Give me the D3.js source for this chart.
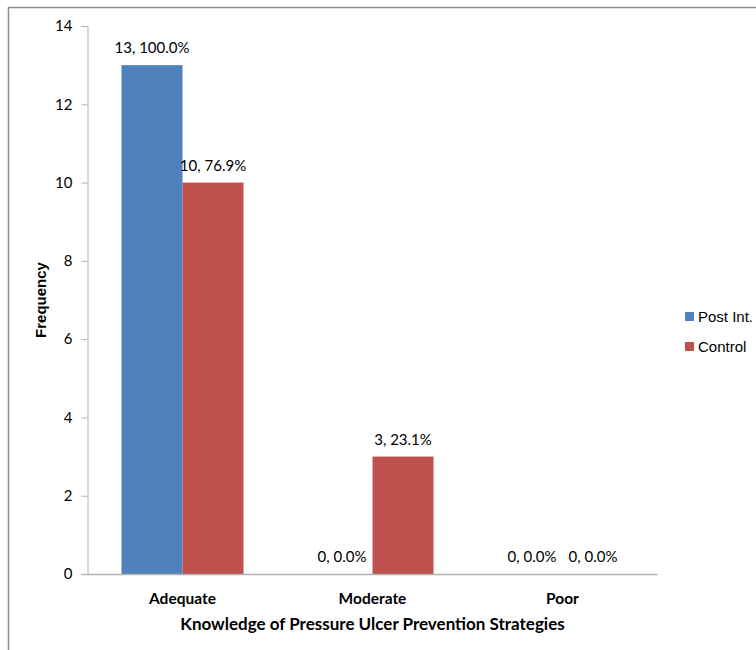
<!DOCTYPE html>
<html>
<head>
<meta charset="utf-8">
<script src="https://cdn.jsdelivr.net/npm/d3@7"></script>
<style>
  html, body { margin: 0; padding: 0; background: #fff; }
  svg { display: block; }
</style>
</head>
<body>
<svg id="chart" width="756" height="650"></svg>
<script>
// Knowledge levels and counts for each group
const categories = ["Adequate", "Moderate", "Poor"];
const seriesNames = ["Post Int.", "Control"];
const postInt = [13, 0, 0];
const control = [10, 3, 0];
const postIntPct = ["100.0%", "0.0%", "0.0%"];
const controlPct = ["76.9%", "23.1%", "0.0%"];
const yTicks = [0, 2, 4, 6, 8, 10, 12, 14];
const colors = ["#4F81BD", "#C0504D"];

const series = [
  { name: seriesNames[0], values: postInt, pct: postIntPct },
  { name: seriesNames[1], values: control, pct: controlPct }
];

const svg = d3.select("#chart");
const axisColor = "#b3b3b3";
const labelFont = "Lato, 'Open Sans', sans-serif";

// outer frame
svg.append("rect")
  .attr("x", 8.5).attr("y", 7.5)
  .attr("width", 800).attr("height", 700)
  .attr("fill", "none").attr("stroke", "#8c8c8c").attr("stroke-width", 1.5);

const plot = { left: 87.5, right: 657.5, top: 26, bottom: 574 };

const y = d3.scaleLinear().domain([0, 14]).range([plot.bottom, plot.top]);
const x0 = d3.scaleBand().domain(categories).range([plot.left, plot.right]);
const x1 = d3.scaleBand().domain(seriesNames).range([0, x0.bandwidth()]).paddingOuter(0.557);

// y axis
const yAxis = svg.append("g")
  .attr("transform", `translate(${plot.left},0)`)
  .call(d3.axisLeft(y).tickValues(yTicks).tickSize(6).tickPadding(9));
yAxis.select(".domain").attr("stroke", axisColor);
yAxis.selectAll(".tick line").attr("stroke", axisColor);
yAxis.selectAll(".tick text")
  .attr("font-family", labelFont).attr("font-size", 15).attr("fill", "#000");

// bars
const groups = svg.append("g").selectAll("g")
  .data(categories)
  .join("g")
  .attr("transform", d => `translate(${x0(d)},0)`);

groups.selectAll("rect")
  .data((c, i) => series.map(s => ({ name: s.name, value: s.values[i], pct: s.pct[i] })))
  .join("rect")
  .attr("x", d => x1(d.name))
  .attr("y", d => y(d.value))
  .attr("width", x1.bandwidth())
  .attr("height", d => y(0) - y(d.value))
  .attr("fill", (d, i) => colors[i]);

// value labels
groups.selectAll("text")
  .data((c, i) => series.map(s => ({ name: s.name, value: s.values[i], pct: s.pct[i] })))
  .join("text")
  .attr("x", d => x1(d.name) + x1.bandwidth() / 2)
  .attr("y", d => y(d.value) - 12)
  .attr("text-anchor", "middle")
  .attr("font-family", labelFont)
  .attr("font-size", 15)
  .attr("fill", "#000")
  .text(d => `${d.value}, ${d.pct}`);

// x axis line
svg.append("line")
  .attr("x1", plot.left - 6).attr("x2", plot.right)
  .attr("y1", plot.bottom + 0.5).attr("y2", plot.bottom + 0.5)
  .attr("stroke", axisColor).attr("stroke-width", 1.5);

// category labels
svg.append("g").selectAll("text")
  .data(categories)
  .join("text")
  .attr("x", d => x0(d) + x0.bandwidth() / 2)
  .attr("y", 604)
  .attr("text-anchor", "middle")
  .attr("font-family", labelFont)
  .attr("font-weight", "bold")
  .attr("font-size", 15.5)
  .text(d => d);

// axis titles
svg.append("text")
  .attr("x", (plot.left + plot.right) / 2)
  .attr("y", 630)
  .attr("text-anchor", "middle")
  .attr("font-family", labelFont)
  .attr("font-weight", "bold")
  .attr("font-size", 17)
  .text("Knowledge of Pressure Ulcer Prevention Strategies");

svg.append("text")
  .attr("transform", `translate(46,${(plot.top + plot.bottom) / 2}) rotate(-90)`)
  .attr("text-anchor", "middle")
  .attr("font-family", "'Liberation Sans', Arial, sans-serif")
  .attr("font-weight", "bold")
  .attr("font-size", 15)
  .text("Frequency");

// legend
const legend = svg.append("g").selectAll("g")
  .data(seriesNames)
  .join("g")
  .attr("transform", (d, i) => `translate(685,${312 + i * 30})`);
legend.append("rect")
  .attr("width", 9).attr("height", 9)
  .attr("fill", (d, i) => colors[i]);
legend.append("text")
  .attr("x", 13).attr("y", 10)
  .attr("font-family", "'Liberation Sans', Arial, sans-serif")
  .attr("font-size", 15)
  .text(d => d);
</script>
</body>
</html>
